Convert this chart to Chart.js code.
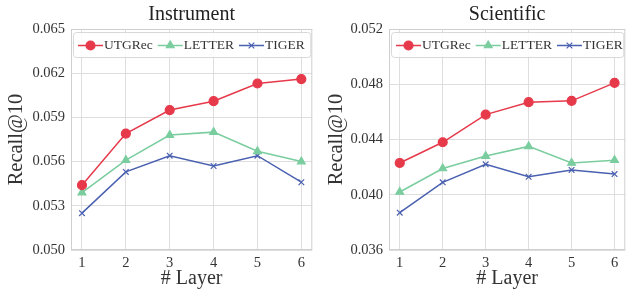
<!DOCTYPE html>
<html>
<head>
<meta charset="utf-8">
<script src="https://cdn.jsdelivr.net/npm/chart.js@4.4.1/dist/chart.umd.min.js"></script>
<style>
  body { margin: 0; background: #fff; }
  .panel { position: absolute; top: 0; height: 294px; }
  #left { left: 0; width: 318px; }
  #right { left: 320px; width: 311px; }
</style>
</head>
<body>
<div class="panel" id="left"><canvas id="chart-instrument"></canvas></div>
<div class="panel" id="right"><canvas id="chart-scientific"></canvas></div>
<script>
const layers = [1, 2, 3, 4, 5, 6];
const seriesNames = ['UTGRec', 'LETTER', 'TIGER'];

const instrumentUTGRec = [0.0544, 0.0579, 0.0595, 0.0601, 0.0613, 0.0616];
const instrumentLETTER = [0.0539, 0.0561, 0.0578, 0.0580, 0.0567, 0.0560];
const instrumentTIGER  = [0.0525, 0.0553, 0.0564, 0.0557, 0.0564, 0.0546];

const scientificUTGRec = [0.0423, 0.0438, 0.0458, 0.0467, 0.0468, 0.0481];
const scientificLETTER = [0.0402, 0.0419, 0.0428, 0.0435, 0.0423, 0.0425];
const scientificTIGER  = [0.0387, 0.0409, 0.0422, 0.0413, 0.0418, 0.0415];

const instrumentTicks = [0.050, 0.053, 0.056, 0.059, 0.062, 0.065];
const scientificTicks = [0.036, 0.040, 0.044, 0.048, 0.052];

const colors = ['#e6394a', '#7acd9e', '#4a60b0'];
const markers = ['circle', 'triangle', 'crossRot'];
const serif = '"Liberation Serif", "DejaVu Serif", serif';

// legend drawn inside the plot area, top left
const insideLegend = {
    id: 'insideLegend',
    afterDatasetsDraw(chart) {
        const ctx = chart.ctx;
        const area = chart.chartArea;
        const x0 = area.left + 2, y0 = area.top + 3;
        const w = area.right - area.left - 4, h = 25;
        ctx.save();
        ctx.fillStyle = 'rgba(255,255,255,0.85)';
        ctx.strokeStyle = '#d8d8d8';
        ctx.lineWidth = 1;
        ctx.beginPath();
        ctx.roundRect(x0 + 0.5, y0 + 0.5, w, h, 3);
        ctx.fill();
        ctx.stroke();
        ctx.font = '13.5px ' + serif;
        ctx.textBaseline = 'middle';
        let x = x0 + 5;
        const cy = y0 + h / 2 + 1;
        chart.data.datasets.forEach((ds) => {
            ctx.strokeStyle = ds.borderColor;
            ctx.fillStyle = ds.borderColor;
            ctx.lineWidth = 1.5;
            ctx.beginPath();
            ctx.moveTo(x, cy);
            ctx.lineTo(x + 25, cy);
            ctx.stroke();
            ctx.lineWidth = 1.2;
            Chart.helpers.drawPoint(ctx, {
                pointStyle: ds.pointStyle, radius: ds.pointRadius, rotation: 0, borderWidth: 1.2
            }, x + 12.5, cy);
            ctx.fillStyle = '#333';
            ctx.fillText(ds.label, x + 26, cy);
            x += 26 + ctx.measureText(ds.label).width + 5;
        });
        ctx.restore();
    }
};

const panelTitle = {
    id: 'panelTitle',
    afterDraw(chart, args, opts) {
        const ctx = chart.ctx;
        const area = chart.chartArea;
        ctx.save();
        ctx.font = '20px ' + serif;
        ctx.fillStyle = '#222';
        ctx.textAlign = 'center';
        ctx.textBaseline = 'middle';
        ctx.fillText(opts.text, (area.left + area.right) / 2, 15);
        ctx.restore();
    }
};

const frame = {
    id: 'frame',
    beforeDatasetsDraw(chart) {
        const ctx = chart.ctx;
        const a = chart.chartArea;
        ctx.save();
        ctx.strokeStyle = '#cfcfcf';
        ctx.lineWidth = 1;
        ctx.strokeRect(a.left + 0.5, a.top + 0.5, a.right - a.left - 1, a.bottom - a.top - 1);
        ctx.restore();
    }
};

function makeChart(canvasId, title, series, yTicks, yLeft, rightPad) {
    const datasets = series.map((vals, i) => ({
        label: seriesNames[i],
        data: layers.map((l, j) => ({ x: l, y: vals[j] })),
        borderColor: colors[i],
        backgroundColor: colors[i],
        pointBackgroundColor: colors[i],
        pointBorderColor: colors[i],
        pointStyle: markers[i],
        pointRadius: markers[i] === 'crossRot' ? 4 : 4.5,
        pointBorderWidth: 1.2,
        borderWidth: 1.5,
        tension: 0
    }));
    return new Chart(document.getElementById(canvasId), {
        type: 'line',
        data: { datasets: datasets },
        options: {
            responsive: true,
            maintainAspectRatio: false,
            animation: false,
            layout: { padding: { top: 29, right: rightPad, left: 0, bottom: 0 } },
            plugins: {
                legend: { display: false },
                tooltip: { enabled: false },
                panelTitle: { text: title }
            },
            scales: {
                x: {
                    type: 'linear',
                    min: 0.75,
                    max: 6.25,
                    afterBuildTicks: (s) => { s.ticks = layers.map(v => ({ value: v })); },
                    afterFit: (s) => { s.height = 44; },
                    grid: { color: '#dedede', drawTicks: false },
                    border: { display: false },
                    ticks: { color: '#333', padding: 4, font: { family: serif, size: 14.5 } },
                    title: {
                        display: true, text: '# Layer', color: '#333',
                        font: { family: serif, size: 20 }, padding: { top: 0, bottom: 3 }
                    }
                },
                y: {
                    min: yTicks[0],
                    max: yTicks[yTicks.length - 1],
                    afterBuildTicks: (s) => { s.ticks = yTicks.map(v => ({ value: v })); },
                    afterFit: (s) => { s.width = yLeft; },
                    grid: { color: '#dedede', drawTicks: false },
                    border: { display: false },
                    ticks: {
                        color: '#333', padding: 6, font: { family: serif, size: 14.5 },
                        callback: (v) => v.toFixed(3)
                    },
                    title: {
                        display: true, text: 'Recall@10', color: '#333',
                        font: { family: serif, size: 20.5 }, padding: { top: 4, bottom: 0 }
                    }
                }
            }
        },
        plugins: [frame, insideLegend, panelTitle]
    });
}

makeChart('chart-instrument', 'Instrument',
    [instrumentUTGRec, instrumentLETTER, instrumentTIGER], instrumentTicks, 71, 3);
makeChart('chart-scientific', 'Scientific',
    [scientificUTGRec, scientificLETTER, scientificTIGER], scientificTicks, 69, 1);
</script>
</body>
</html>
